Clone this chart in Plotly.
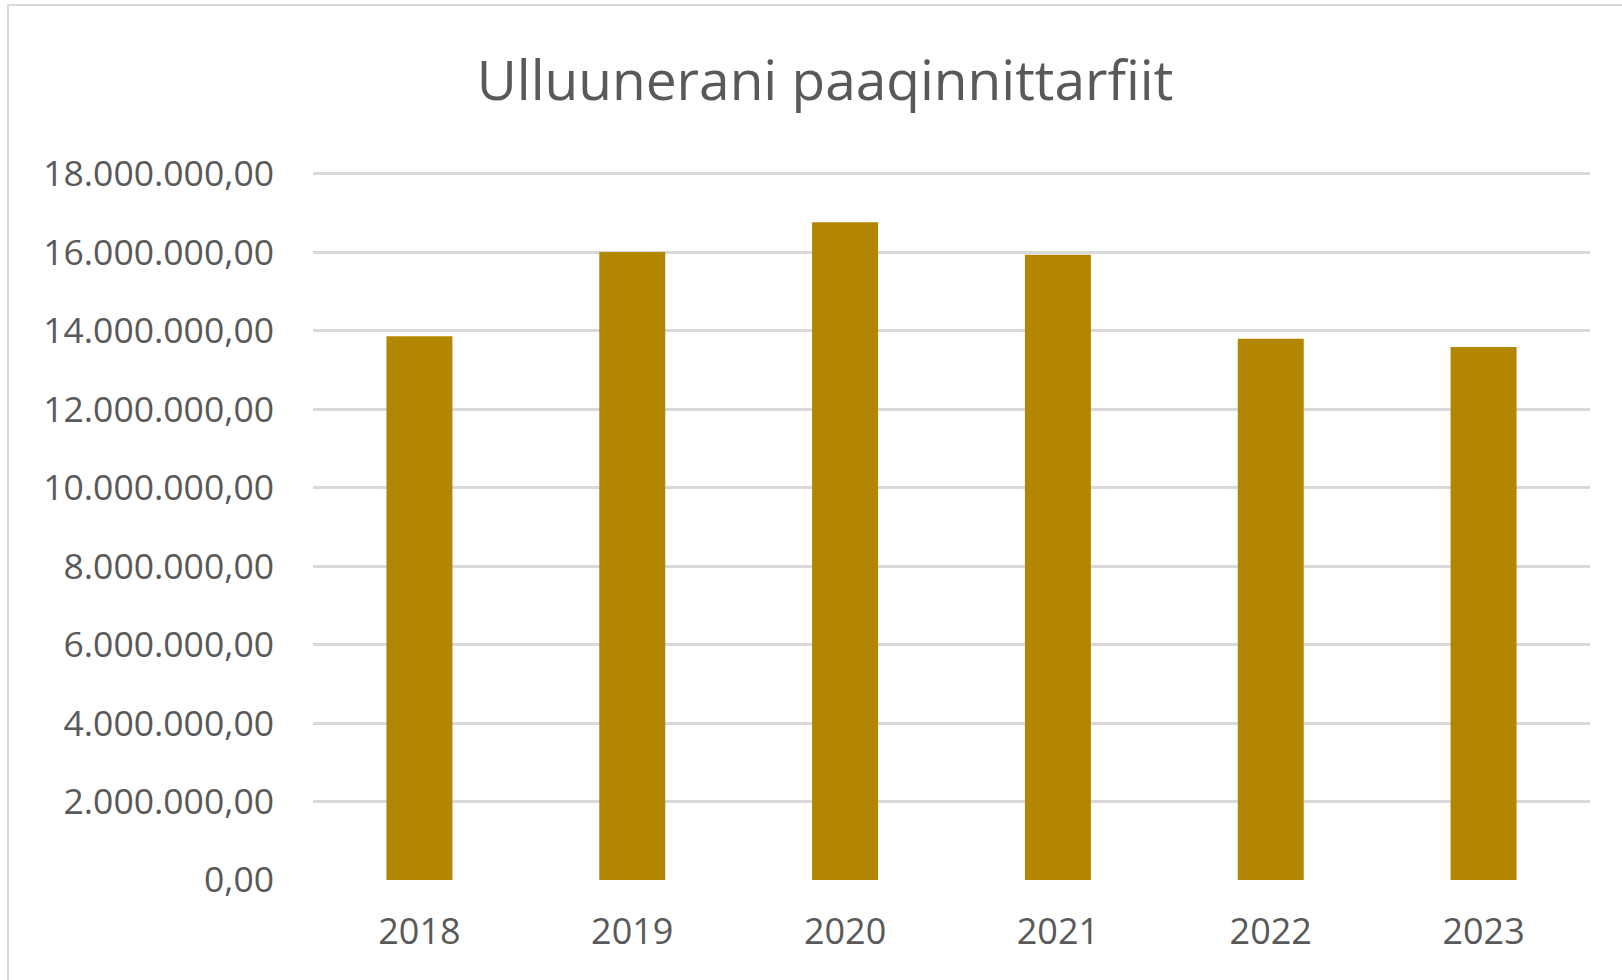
import plotly.graph_objects as go

years = ["2018", "2019", "2020", "2021", "2022", "2023"]
values = [13860000, 16010000, 16770000, 15940000, 13800000, 13590000]
tick_vals = [0, 2000000, 4000000, 6000000, 8000000, 10000000, 12000000, 14000000, 16000000, 18000000]
tick_text = ["0,00", "2.000.000,00", "4.000.000,00", "6.000.000,00", "8.000.000,00",
             "10.000.000,00", "12.000.000,00", "14.000.000,00", "16.000.000,00", "18.000.000,00"]
title = "Ulluunerani paaqinnittarfiit"

W, H = 1622, 980
ymax = 18100000
L, R, T, B = 313, 32, 170, 100
pw, ph = W - L - R, H - T - B

fig = go.Figure(go.Bar(x=years, y=values, marker=dict(color="#B38600", line=dict(width=0)), width=0.31))

fig.update_layout(
    width=W, height=H,
    margin=dict(l=L, r=R, t=T, b=B),
    paper_bgcolor="white", plot_bgcolor="white",
    font=dict(family="Open Sans", color="#595959"),
    title=dict(text=title, x=825 / W, xanchor="center", y=1 - 81 / H, yanchor="middle",
               font=dict(size=55, color="#595959", family="Open Sans")),
    showlegend=False,
    xaxis=dict(showgrid=False, zeroline=False, showline=False, tickfont=dict(size=36),
               ticks="", ticklabelstandoff=27),
    yaxis=dict(range=[0, ymax], tickvals=tick_vals, ticktext=tick_text, showgrid=True,
               gridcolor="#D9D9D9", gridwidth=3, zeroline=False, showline=False,
               tickfont=dict(size=35.5), ticks="", ticklabelstandoff=38),
    shapes=[dict(type="rect", xref="paper", yref="paper",
                 x0=(8 - L) / pw, x1=(W + 20 - L) / pw,
                 y0=-(B + 20) / ph, y1=(ph + T - 5) / ph,
                 line=dict(color="#D9D9D9", width=2), layer="below")],
)

fig.write_html("out.html", config={"displayModeBar": False},
               post_script="document.body.style.margin='0';document.body.style.overflow='hidden';")
